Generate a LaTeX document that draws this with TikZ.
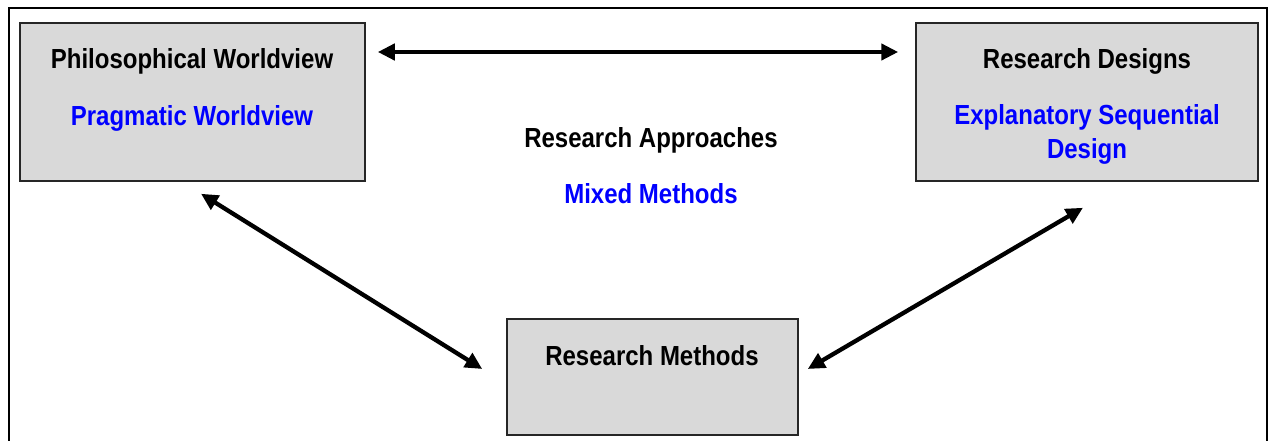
\documentclass[tikz,border=0pt]{standalone}
\usepackage{fontspec}
\setmainfont{Liberation Sans}
\usetikzlibrary{arrows.meta}
\definecolor{boxgray}{RGB}{217,217,217}
\definecolor{txtblue}{RGB}{0,0,255}
\newcommand{\tallt}[1]{\scalebox{1}[1.15]{#1}}
\tikzset{
  box/.style={draw=black!85, line width=1.5pt, fill=boxgray, inner sep=0pt},
  lbl/.style={anchor=base, inner sep=0pt, font=\fontsize{24}{35}\selectfont\bfseries, align=center},
  bluelbl/.style={lbl, text=txtblue},
  dbl/.style={line width=4.3pt, {Triangle[length=17pt,width=16pt]}-{Triangle[length=17pt,width=16pt]}}
}
\begin{document}
\begin{tikzpicture}[x=1pt,y=-1pt]
\useasboundingbox (0,0) rectangle (1269,441);
\clip (0,0) rectangle (1269,441);
\draw[line width=2.5pt] (9,8) rectangle (1267,470);
% boxes
\node[box, minimum width=345pt, minimum height=158pt] (pw) at (192.5,102) {};
\node[box, minimum width=342pt, minimum height=158pt] (rd) at (1087,102) {};
\node[box, minimum width=291pt, minimum height=116pt] (rm) at (652.5,377) {};
% texts
\node[lbl] (pwt) at (192,69) {\tallt{Philosophical Worldview}};
\node[bluelbl] (pws) at (192,126) {\tallt{Pragmatic Worldview}};
\node[lbl] (rdt) at (1087,69) {\tallt{Research Designs}};
\node[bluelbl] (rds) at (1087,125) {\tallt{Explanatory Sequential}};
\node[bluelbl] (rds2) at (1087,159) {\tallt{Design}};
\node[lbl] (rat) at (651,147) {\tallt{Research Approaches}};
\node[bluelbl] (ras) at (651,203) {\tallt{Mixed Methods}};
\node[lbl] (rmt) at (652,365) {\tallt{Research Methods}};
% connectors
\draw[dbl] ([xshift=12pt,yshift=50pt]pw.east) -- ([xshift=-17pt,yshift=50pt]rd.west);
\draw[dbl] ([xshift=8.5pt,yshift=-12pt]pw.south) -- ([xshift=-24pt,yshift=8pt]rm.west);
\draw[dbl] ([xshift=-4pt,yshift=-26pt]rd.south) -- ([xshift=9pt,yshift=8pt]rm.east);
\end{tikzpicture}
\end{document}
